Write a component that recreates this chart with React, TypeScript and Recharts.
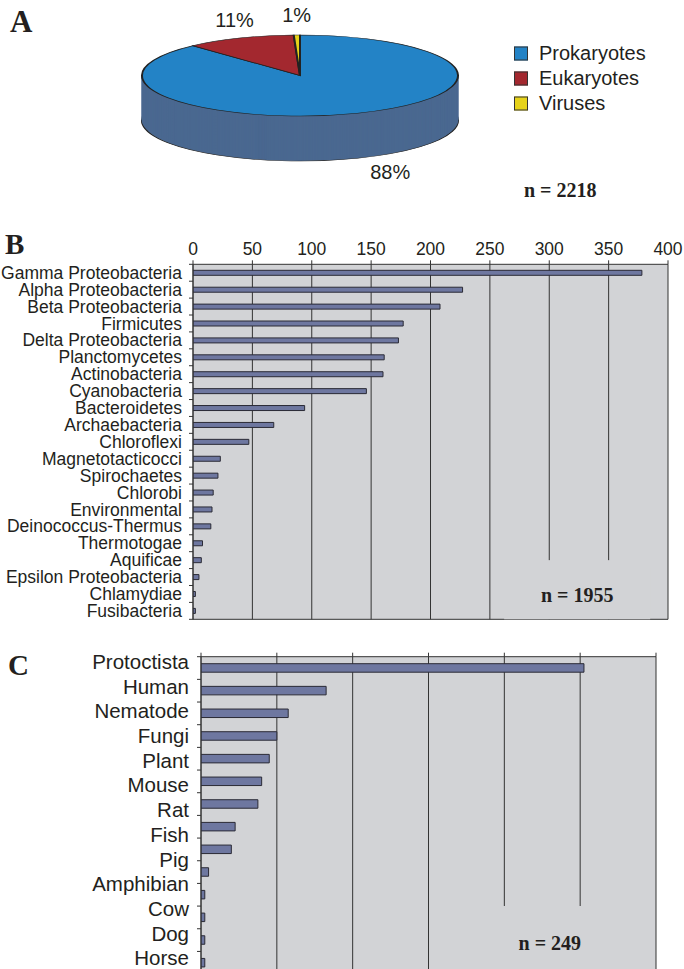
import React from 'react';
import {
  PieChart,
  Pie,
  Cell,
  Legend,
  BarChart,
  Bar,
  XAxis,
  YAxis,
  CartesianGrid,
  ReferenceArea,
  ReferenceLine,
} from 'recharts';

// ---- Panel A: kingdoms ----
const kingdomNames = ['Prokaryotes', 'Eukaryotes', 'Viruses'];
const kingdomCounts = [1955, 249, 14];
const kingdomTotal = 2218;

// ---- Panel B: prokaryote groups ----
const bacteriaNames = [
  'Gamma Proteobacteria',
  'Alpha Proteobacteria',
  'Beta Proteobacteria',
  'Firmicutes',
  'Delta Proteobacteria',
  'Planctomycetes',
  'Actinobacteria',
  'Cyanobacteria',
  'Bacteroidetes',
  'Archaebacteria',
  'Chloroflexi',
  'Magnetotacticocci',
  'Spirochaetes',
  'Chlorobi',
  'Environmental',
  'Deinococcus-Thermus',
  'Thermotogae',
  'Aquificae',
  'Epsilon Proteobacteria',
  'Chlamydiae',
  'Fusibacteria',
];
const bacteriaCounts = [378, 227, 208, 177, 173, 161, 160, 146, 94, 68, 47, 23, 21, 17, 16, 15, 8, 7, 5, 2, 2];
const bacteriaTicks = [0, 50, 100, 150, 200, 250, 300, 350, 400];
const bacteriaShortTicks = [300, 350]; // grid lines that stop above the n label
const bacteriaTotal = 1955;

// ---- Panel C: eukaryote groups (last row is cut off in the figure) ----
const eukaryoteNames = [
  'Protoctista',
  'Human',
  'Nematode',
  'Fungi',
  'Plant',
  'Mouse',
  'Rat',
  'Fish',
  'Pig',
  'Amphibian',
  'Cow',
  'Dog',
  'Horse',
  'Other',
];
const eukaryoteCounts = [101, 33, 23, 20, 18, 16, 15, 9, 8, 2, 1, 1, 1, 1];
const eukaryoteTicks = [0, 20, 40, 60, 80, 100, 120];
const eukaryoteTotal = 249;

const kingdomData = kingdomNames.map((name, i) => ({ name, value: kingdomCounts[i] }));
const bacteriaData = bacteriaNames.map((name, i) => ({ name, value: bacteriaCounts[i] }));
const eukaryoteData = eukaryoteNames.map((name, i) => ({ name, value: eukaryoteCounts[i] }));

const SANS = '"Liberation Sans", Arial, Helvetica, sans-serif';
const SERIF = '"Liberation Serif", "Times New Roman", serif';
const TEXT = '#231f20';
const AXIS = '#333333';
const PLOT_BG = '#d2d3d6';
const BAR_FILL = '#6e77a0';
const BAR_EDGE = '#2a2a35';
const OUTLINE = '#222222';

const topColors = ['#2383c6', '#a3282f', '#e6d21a'];
const sideColors = ['#4a6890', '#6a1c22', '#958617'];

// 3D pie: drawn as circles, then squashed vertically by K
const PIE_R = 158;
const PIE_RY = 40.5;
const K = PIE_RY / PIE_R;
const PIE_CX = 300;
const PIE_CY = 75.5 / K;
const DEPTH_PX = 45;
const PIE_DEPTH = DEPTH_PX / K;
const LAYER_STEP = 1 / K;
const sideLayers = Array.from({ length: Math.round(PIE_DEPTH / LAYER_STEP) }, (_, i) => PIE_DEPTH - i * LAYER_STEP);

const renderPieLabel = (props: any) => {
  const { cx, cy, midAngle, percent } = props;
  const rad = (midAngle * Math.PI) / 180;
  const cos = Math.cos(rad);
  const sin = Math.sin(rad);
  const front = sin < 0;
  const ox = front ? 90 : 13;
  const oy = front ? 15 : 20;
  const x = cx + (PIE_R + ox) * cos;
  const ys = cy * K - (PIE_RY + oy) * sin + (front ? DEPTH_PX : 0);
  return (
    <text
      x={x}
      y={ys}
      transform={`scale(1 ${1 / K})`}
      textAnchor="middle"
      dominantBaseline="central"
      fontSize={20}
      fill={TEXT}
    >
      {`${Math.round(percent * 100)}%`}
    </text>
  );
};

const PieLegend = () => (
  <div style={{ fontFamily: SANS, fontSize: 20, color: TEXT }}>
    {kingdomNames.map((name, i) => (
      <div key={name} style={{ display: 'flex', alignItems: 'center', height: 25 }}>
        <span
          style={{
            display: 'inline-block',
            width: 12,
            height: 12,
            background: topColors[i],
            border: `1px solid ${AXIS}`,
            marginRight: 11,
          }}
        />
        <span>{name}</span>
      </div>
    ))}
  </div>
);

const BacteriaTick = (props: any) => {
  const { x, y, payload, index } = props;
  const half = payload && payload.offset ? payload.offset : 8.45;
  const edge = x + 11;
  return (
    <g>
      <line x1={edge - 4} x2={edge} y1={y - half} y2={y - half} stroke={AXIS} />
      {index === bacteriaNames.length - 1 && (
        <line x1={edge - 4} x2={edge} y1={y + half} y2={y + half} stroke={AXIS} />
      )}
      <text x={x} y={y} dy="0.35em" textAnchor="end" fontSize={17.5} fill={TEXT}>
        {payload.value}
      </text>
    </g>
  );
};

// labels in panel C sit on a slightly wider pitch than the bars
const EukaryoteTick = (props: any) => {
  const { x, y, payload, index } = props;
  const half = payload && payload.offset ? payload.offset : 11.33;
  const edge = x + 12;
  const labelY = y - 6.3 + index * 2.03;
  return (
    <g>
      <line x1={edge - 4} x2={edge} y1={y - half} y2={y - half} stroke={AXIS} />
      <text x={x} y={labelY} dy="0.35em" textAnchor="end" fontSize={20.5} fill={TEXT}>
        {payload.value}
      </text>
    </g>
  );
};

const nLabel = (text: string, dy: number) => (props: any) => {
  const vb = props.viewBox || {};
  return (
    <text
      x={vb.x + vb.width / 2}
      y={vb.y + vb.height / 2 + dy}
      textAnchor="middle"
      dominantBaseline="central"
      fontFamily={SERIF}
      fontWeight="bold"
      fontSize={20}
      fill={TEXT}
    >
      {text}
    </text>
  );
};

// bottom frame line of the plot area
const bottomEdge = (props: any) => {
  const o = props && props.offset;
  return o ? [o.top + o.height] : [];
};

const panelLetter = (letter: string, left: number, top: number, size: number) => (
  <div
    style={{
      position: 'absolute',
      left,
      top,
      fontFamily: SERIF,
      fontWeight: 'bold',
      fontSize: size,
      lineHeight: `${size}px`,
      color: TEXT,
    }}
  >
    {letter}
  </div>
);

export default function App() {
  return (
    <div
      style={{
        position: 'absolute',
        left: 0,
        top: 0,
        width: 684,
        height: 969,
        overflow: 'hidden',
        background: '#ffffff',
        fontFamily: SANS,
      }}
    >
      {/* A */}
      <div
        style={{
          position: 'absolute',
          left: 0,
          top: 0,
          width: 684,
          height: 230 / K,
          transform: `scaleY(${K})`,
          transformOrigin: '0 0',
        }}
      >
        <PieChart width={684} height={230 / K} margin={{ top: 0, right: 0, bottom: 0, left: 0 }}>
          {sideLayers.map((d, i) => (
            <Pie
              key={`side-${i}`}
              data={kingdomData}
              dataKey="value"
              nameKey="name"
              cx={PIE_CX}
              cy={PIE_CY + d}
              outerRadius={PIE_R}
              startAngle={90}
              endAngle={-270}
              strokeWidth={i === 0 ? 2 : 1}
              isAnimationActive={false}
            >
              {kingdomData.map((entry, j) => (
                <Cell key={entry.name} fill={sideColors[j]} stroke={i === 0 ? OUTLINE : sideColors[j]} />
              ))}
            </Pie>
          ))}
          <Pie
            data={kingdomData}
            dataKey="value"
            nameKey="name"
            cx={PIE_CX}
            cy={PIE_CY}
            outerRadius={PIE_R}
            startAngle={90}
            endAngle={-270}
            stroke={OUTLINE}
            strokeWidth={2}
            label={renderPieLabel}
            labelLine={false}
            isAnimationActive={false}
          >
            {kingdomData.map((entry, j) => (
              <Cell key={entry.name} fill={topColors[j]} stroke={OUTLINE} />
            ))}
          </Pie>
          <Legend
            layout="vertical"
            align="right"
            verticalAlign="middle"
            content={PieLegend}
            wrapperStyle={{
              left: 514,
              right: 'auto',
              top: 40.5 / K,
              width: 160,
              transform: `scaleY(${1 / K})`,
              transformOrigin: '0 0',
            }}
          />
        </PieChart>
      </div>
      {panelLetter('A', 10, 6, 31)}
      <div
        style={{
          position: 'absolute',
          left: 524,
          top: 180,
          fontFamily: SERIF,
          fontWeight: 'bold',
          fontSize: 20,
          lineHeight: '20px',
          color: TEXT,
          whiteSpace: 'nowrap',
        }}
      >
        {`n = ${kingdomTotal}`}
      </div>

      {/* B */}
      {panelLetter('B', 5, 230, 29)}
      <div style={{ position: 'absolute', left: 0, top: 230 }}>
        <BarChart
          width={684}
          height={400}
          layout="vertical"
          data={bacteriaData}
          margin={{ top: 4.3, right: 16, bottom: 10.7, left: 0 }}
        >
          <CartesianGrid
            yAxisId="cat"
            horizontal
            vertical
            horizontalCoordinatesGenerator={bottomEdge}
            stroke={AXIS}
            fill={PLOT_BG}
            fillOpacity={1}
          />
          <XAxis
            type="number"
            orientation="top"
            domain={[0, 400]}
            ticks={bacteriaTicks}
            interval={0}
            height={30}
            allowDataOverflow
            axisLine={{ stroke: AXIS }}
            tickLine={{ stroke: AXIS }}
            tickSize={4}
            tickMargin={5}
            tick={{ fontSize: 17.5, fill: TEXT }}
          />
          <YAxis
            yAxisId="cat"
            type="category"
            dataKey="name"
            width={193}
            interval={0}
            tickLine={false}
            tickSize={0}
            tickMargin={11}
            axisLine={{ stroke: AXIS }}
            tick={<BacteriaTick />}
          />
          <ReferenceArea
            yAxisId="cat"
            x1={262}
            x2={385}
            y1="Epsilon Proteobacteria"
            y2="Fusibacteria"
            fill={PLOT_BG}
            fillOpacity={1}
            stroke="none"
            label={nLabel(`n = ${bacteriaTotal}`, 1)}
          />
          {/* trim the 300/350 grid lines back to the middle of the Aquificae row */}
          {bacteriaShortTicks.map((t) => (
            <ReferenceLine
              key={t}
              yAxisId="cat"
              segment={[
                { x: t, y: 'Aquificae' },
                { x: t, y: 'Epsilon Proteobacteria' },
              ]}
              stroke={PLOT_BG}
              strokeWidth={3}
            />
          ))}
          <Bar
            yAxisId="cat"
            dataKey="value"
            barSize={5}
            fill={BAR_FILL}
            stroke={BAR_EDGE}
            strokeWidth={1}
            isAnimationActive={false}
          />
        </BarChart>
      </div>

      {/* C */}
      {panelLetter('C', 8, 651, 29)}
      <div style={{ position: 'absolute', left: 0, top: 640 }}>
        <BarChart
          width={684}
          height={350}
          layout="vertical"
          data={eukaryoteData}
          margin={{ top: 6.7, right: 28, bottom: 15.9, left: 0 }}
        >
          <CartesianGrid
            yAxisId="cat"
            horizontal={false}
            vertical
            stroke={AXIS}
            fill={PLOT_BG}
            fillOpacity={1}
          />
          <XAxis
            type="number"
            orientation="top"
            domain={[0, 120]}
            ticks={eukaryoteTicks}
            interval={0}
            height={10}
            allowDataOverflow
            axisLine={{ stroke: AXIS }}
            tickLine={{ stroke: AXIS }}
            tickSize={4}
            tick={() => <g />}
          />
          <YAxis
            yAxisId="cat"
            type="category"
            dataKey="name"
            width={201}
            interval={0}
            tickLine={false}
            tickSize={0}
            tickMargin={12}
            axisLine={{ stroke: AXIS }}
            tick={<EukaryoteTick />}
          />
          <ReferenceArea
            yAxisId="cat"
            x1={66}
            x2={118}
            y1="Dog"
            y2="Other"
            fill={PLOT_BG}
            fillOpacity={1}
            stroke="none"
            label={nLabel(`n = ${eukaryoteTotal}`, 3)}
          />
          <Bar
            yAxisId="cat"
            dataKey="value"
            barSize={8.5}
            fill={BAR_FILL}
            stroke={BAR_EDGE}
            strokeWidth={1}
            isAnimationActive={false}
          />
        </BarChart>
      </div>
    </div>
  );
}
